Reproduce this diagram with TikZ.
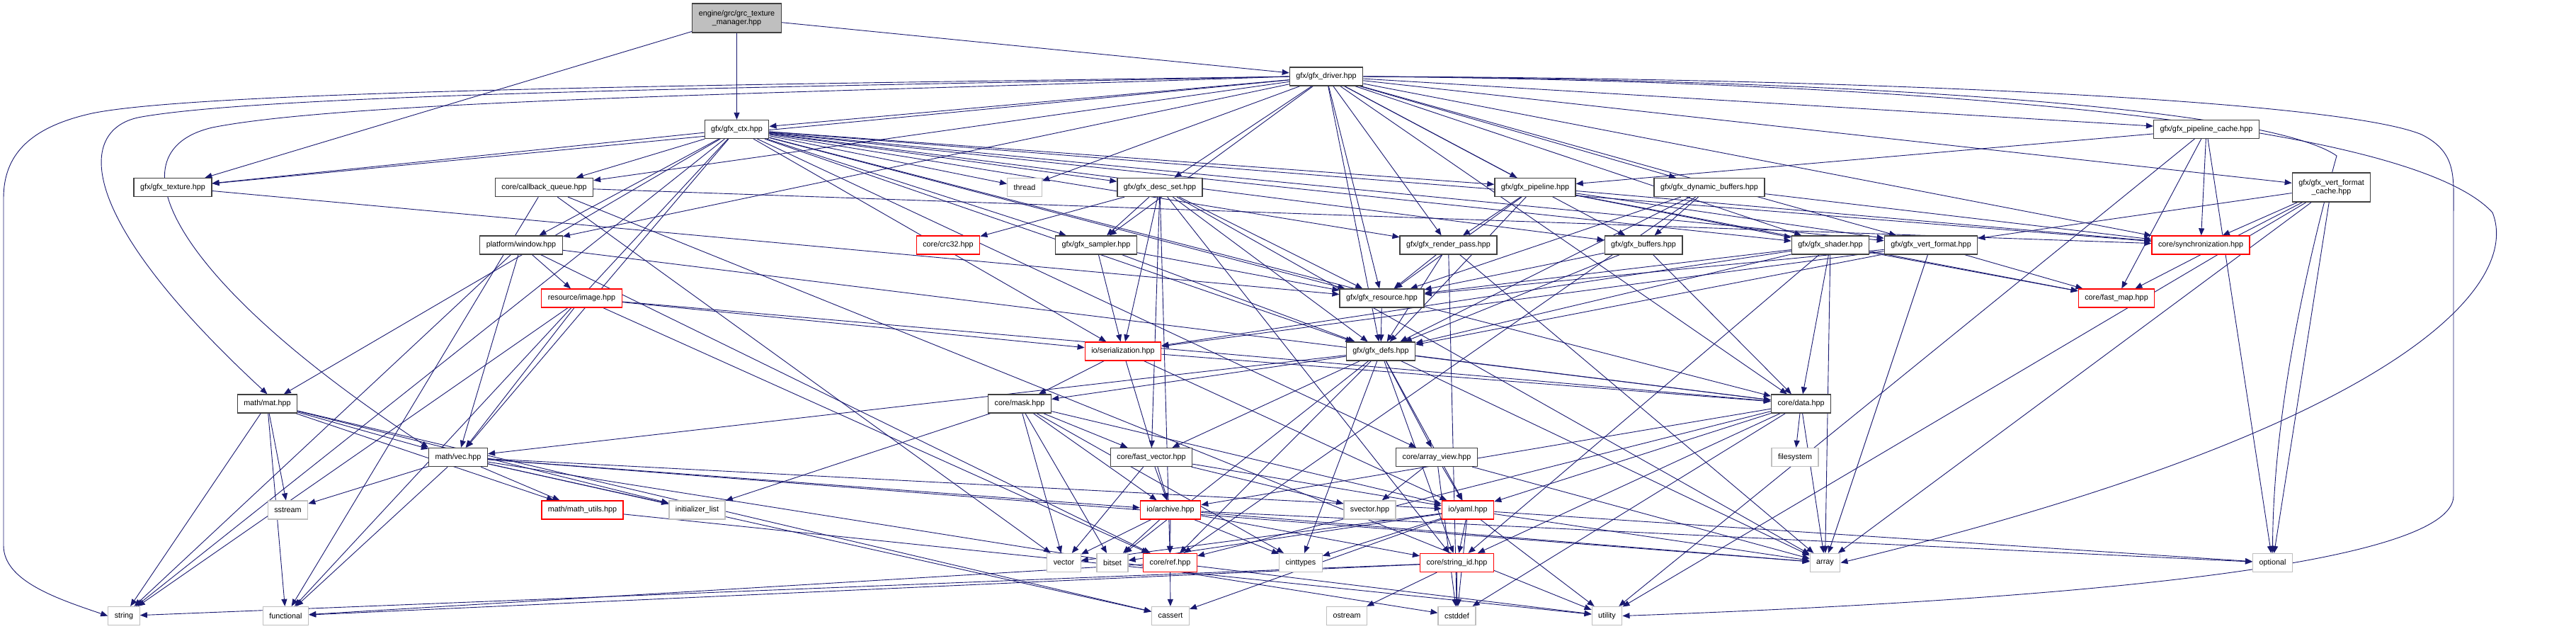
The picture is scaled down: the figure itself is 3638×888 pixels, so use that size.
\documentclass[tikz,border=0pt]{standalone}
\usepackage{fontspec}
\setmainfont{Liberation Sans}
\usetikzlibrary{arrows.meta}
\definecolor{edgec}{HTML}{191970}
\definecolor{nborder}{HTML}{404040}
\definecolor{sysborder}{HTML}{BFBFBF}
\definecolor{rootfill}{HTML}{BFBFBF}
\pgfdeclarelayer{bg}
\pgfsetlayers{bg,main}
\tikzset{
 nd/.style={draw=nborder, line width=1.3pt, fill=white, inner xsep=9pt, inner ysep=0pt, minimum height=26pt, font=\fontsize{10.8}{12.5}\selectfont, align=center},
 sys/.style={nd, draw=sysborder},
 trunc/.style={nd, draw=red},
 root/.style={nd, fill=rootfill, minimum height=41pt},
 e/.style={draw=edgec, line width=0.9pt, -{Triangle[length=10pt,width=8pt]}},
}
\begin{document}
\begin{tikzpicture}[x=1pt,y=-1pt]
\useasboundingbox (0,0) rectangle (3638,888);
% row 1-3
\node[root] (grc) at (1040.5,25.5) {engine/grc/grc\_texture\\\_manager.hpp};
\node[nd] (drv) at (1873,108) {gfx/gfx\_driver.hpp};
\node[nd] (ctx) at (1040.5,182.5) {gfx/gfx\_ctx.hpp};
\node[nd] (pcache) at (3116,182.5) {gfx/gfx\_pipeline\_cache.hpp};
% row 4
\node[nd,minimum height=41pt] (vfcache) at (3292.5,264.5) {gfx/gfx\_vert\_format\\\_cache.hpp};
\node[nd] (tex) at (244,264.5) {gfx/gfx\_texture.hpp};
\node[nd] (cbq) at (768.5,264.5) {core/callback\_queue.hpp};
\node[sys] (thread) at (1447,264.5) {thread};
\node[nd] (dset) at (1638,264.5) {gfx/gfx\_desc\_set.hpp};
\node[nd] (pipe) at (2168,264.5) {gfx/gfx\_pipeline.hpp};
\node[nd] (dynbuf) at (2414,264.5) {gfx/gfx\_dynamic\_buffers.hpp};
% row 5
\node[nd] (win) at (736,346) {platform/window.hpp};
\node[trunc] (crc) at (1339,346) {core/crc32.hpp};
\node[nd] (samp) at (1548,346) {gfx/gfx\_sampler.hpp};
\node[nd] (rpass) at (2045.5,346) {gfx/gfx\_render\_pass.hpp};
\node[nd] (buf) at (2321,346) {gfx/gfx\_buffers.hpp};
\node[nd] (shader) at (2585,346) {gfx/gfx\_shader.hpp};
\node[nd] (vfmt) at (2727,346) {gfx/gfx\_vert\_format.hpp};
\node[trunc] (sync) at (3108,346) {core/synchronization.hpp};
% row 6
\node[trunc] (img) at (821.5,421) {resource/image.hpp};
\node[nd] (res) at (1951.5,421) {gfx/gfx\_resource.hpp};
\node[trunc] (fmap) at (2989,421) {core/fast\_map.hpp};
% row 7
\node[trunc] (ser) at (1586,496) {io/serialization.hpp};
\node[nd] (defs) at (1950,496) {gfx/gfx\_defs.hpp};
% row 8
\node[nd] (mat) at (377.5,570) {math/mat.hpp};
\node[nd] (mask) at (1440,570) {core/mask.hpp};
\node[nd] (data) at (2543.5,570) {core/data.hpp};
% row 9
\node[nd] (vec) at (647,645.5) {math/vec.hpp};
\node[nd] (fvec) at (1626,645.5) {core/fast\_vector.hpp};
\node[nd] (aview) at (2029,645.5) {core/array\_view.hpp};
\node[sys] (fs) at (2535,645.5) {filesystem};
% row 10
\node[sys] (sstream) at (406.5,720) {sstream};
\node[trunc] (mutils) at (822.5,720) {math/math\_utils.hpp};
\node[sys] (ilist) at (984.5,720) {initializer\_list};
\node[trunc] (archive) at (1653,720) {io/archive.hpp};
\node[sys] (svec) at (1934.5,720) {svector.hpp};
\node[trunc] (yaml) at (2073,720) {io/yaml.hpp};
% row 11
\node[sys] (vector) at (1502.5,794.5) {vector};
\node[sys] (bitset) at (1571,794.5) {bitset};
\node[trunc] (ref) at (1652.5,794.5) {core/ref.hpp};
\node[sys] (cint) at (1837,794.5) {cinttypes};
\node[trunc] (sid) at (2057.5,794.5) {core/string\_id.hpp};
\node[sys] (array) at (2577.5,794.5) {array};
\node[sys] (optional) at (3209.5,794.5) {optional};
% row 12
\node[sys] (string) at (175,869.5) {string};
\node[sys] (functional) at (403.5,869.5) {functional};
\node[sys] (cassert) at (1653,869.5) {cassert};
\node[sys] (ostream) at (1902,869.5) {ostream};
\node[sys] (cstddef) at (2057.5,869.5) {cstddef};
\node[sys] (utility) at (2269.5,869.5) {utility};

\begin{pgfonlayer}{bg}
\foreach \s/\t in {grc/drv, grc/ctx, grc/tex,
 drv/ctx, drv/tex, drv/cbq, drv/thread, drv/dset, drv/pipe, drv/dynbuf, drv/pcache, drv/vfcache, drv/win, drv/samp, drv/rpass, drv/buf, drv/shader, drv/vfmt, drv/res, drv/defs, drv/data, drv/sync,
 ctx/tex, ctx/cbq, ctx/win, ctx/thread, ctx/dset, ctx/pipe, ctx/samp, ctx/rpass, ctx/buf, ctx/shader, ctx/vfmt, ctx/res, ctx/defs, ctx/data, ctx/vec, ctx/mat, ctx/string, ctx/functional, ctx/sync, ctx/aview, ctx/ser,
 pcache/pipe, pcache/sync, pcache/fmap, pcache/optional, pcache/utility,
 vfcache/vfmt, vfcache/sync, vfcache/fmap, vfcache/optional, vfcache/utility, vfcache/array,
 tex/res, cbq/sync, cbq/functional, cbq/vector, cbq/utility,
 win/img, win/vec, win/data, win/ref, win/string,
 dset/crc, dset/samp, dset/res, dset/defs, dset/ser, dset/array, dset/ref, dset/sid, dset/fvec,
 pipe/rpass, pipe/shader, pipe/vfmt, pipe/res, pipe/defs, pipe/sync, pipe/fmap,
 dynbuf/buf, dynbuf/res, dynbuf/defs, dynbuf/sync, dynbuf/ref,
 samp/res, samp/ser, samp/defs, rpass/res, rpass/defs, rpass/array, rpass/cstddef,
 buf/res, buf/defs, buf/data,
 shader/res, shader/defs, shader/fmap, shader/data, shader/ser, shader/array, shader/sid,
 vfmt/res, vfmt/defs, vfmt/ser, vfmt/array, vfmt/fmap,
 img/ser, img/vec, img/ref, img/string, img/data,
 res/defs, ser/mask, ser/archive, ser/yaml, ser/data,
 defs/mask, defs/data, defs/vec, defs/aview, defs/fvec, defs/cint, defs/sid, defs/bitset, defs/array, defs/yaml, defs/ref,
 mask/fvec, mask/archive, mask/vector, mask/bitset, mask/yaml, mask/ilist, mask/cint,
 data/fs, data/archive, data/yaml, data/sid, data/array, data/ref, data/cstddef,
 mat/vec, mat/sstream, mat/string, mat/functional, mat/mutils, mat/cassert, mat/ilist,
 vec/sstream, vec/mutils, vec/ilist, vec/functional, vec/cassert, vec/archive, vec/yaml, vec/cstddef, vec/array,
 fvec/archive, fvec/svec, fvec/vector, fvec/yaml,
 aview/svec, aview/yaml, aview/array, aview/cstddef,
 archive/vector, archive/bitset, archive/ref, archive/cint, archive/sid, archive/array, archive/optional,
 yaml/vector, yaml/bitset, yaml/cint, yaml/sid, yaml/array, yaml/optional, yaml/utility, yaml/cstddef, yaml/cassert,
 ref/cassert, ref/functional, ref/utility, sid/ostream, sid/cstddef, sid/string, sid/functional, mutils/utility}
 {\draw[e] (\s) -- (\t);}
% long routed edges
\draw[e] (drv.west) .. controls (1200,118) and (300,125) .. (130,160) .. controls (40,180) and (5,220) .. (5,280) -- (5,770) .. controls (5,820) and (80,845) .. (string.west);
\draw[e] (drv.west) .. controls (1200,122) and (400,130) .. (200,165) .. controls (110,180) and (100,300) .. (mat.north);
\draw[e] (drv.west) .. controls (1200,130) and (500,140) .. (300,180) .. controls (150,215) and (250,400) .. (vec.north west);
\draw[e] (drv.east) .. controls (2600,110) and (3300,140) .. (3420,190) .. controls (3470,215) and (3465,250) .. (3465,300) -- (3465,700) .. controls (3465,780) and (3100,840) .. (utility.east);
\draw[e] (drv.east) .. controls (2700,115) and (3400,170) .. (3520,300) .. controls (3560,400) and (3400,600) .. (array.east);
\draw[e] (drv.east) .. controls (2600,112) and (3200,150) .. (3300,220) .. controls (3250,400) and (3210,600) .. (optional.north);
\end{pgfonlayer}
\end{tikzpicture}
\end{document}
